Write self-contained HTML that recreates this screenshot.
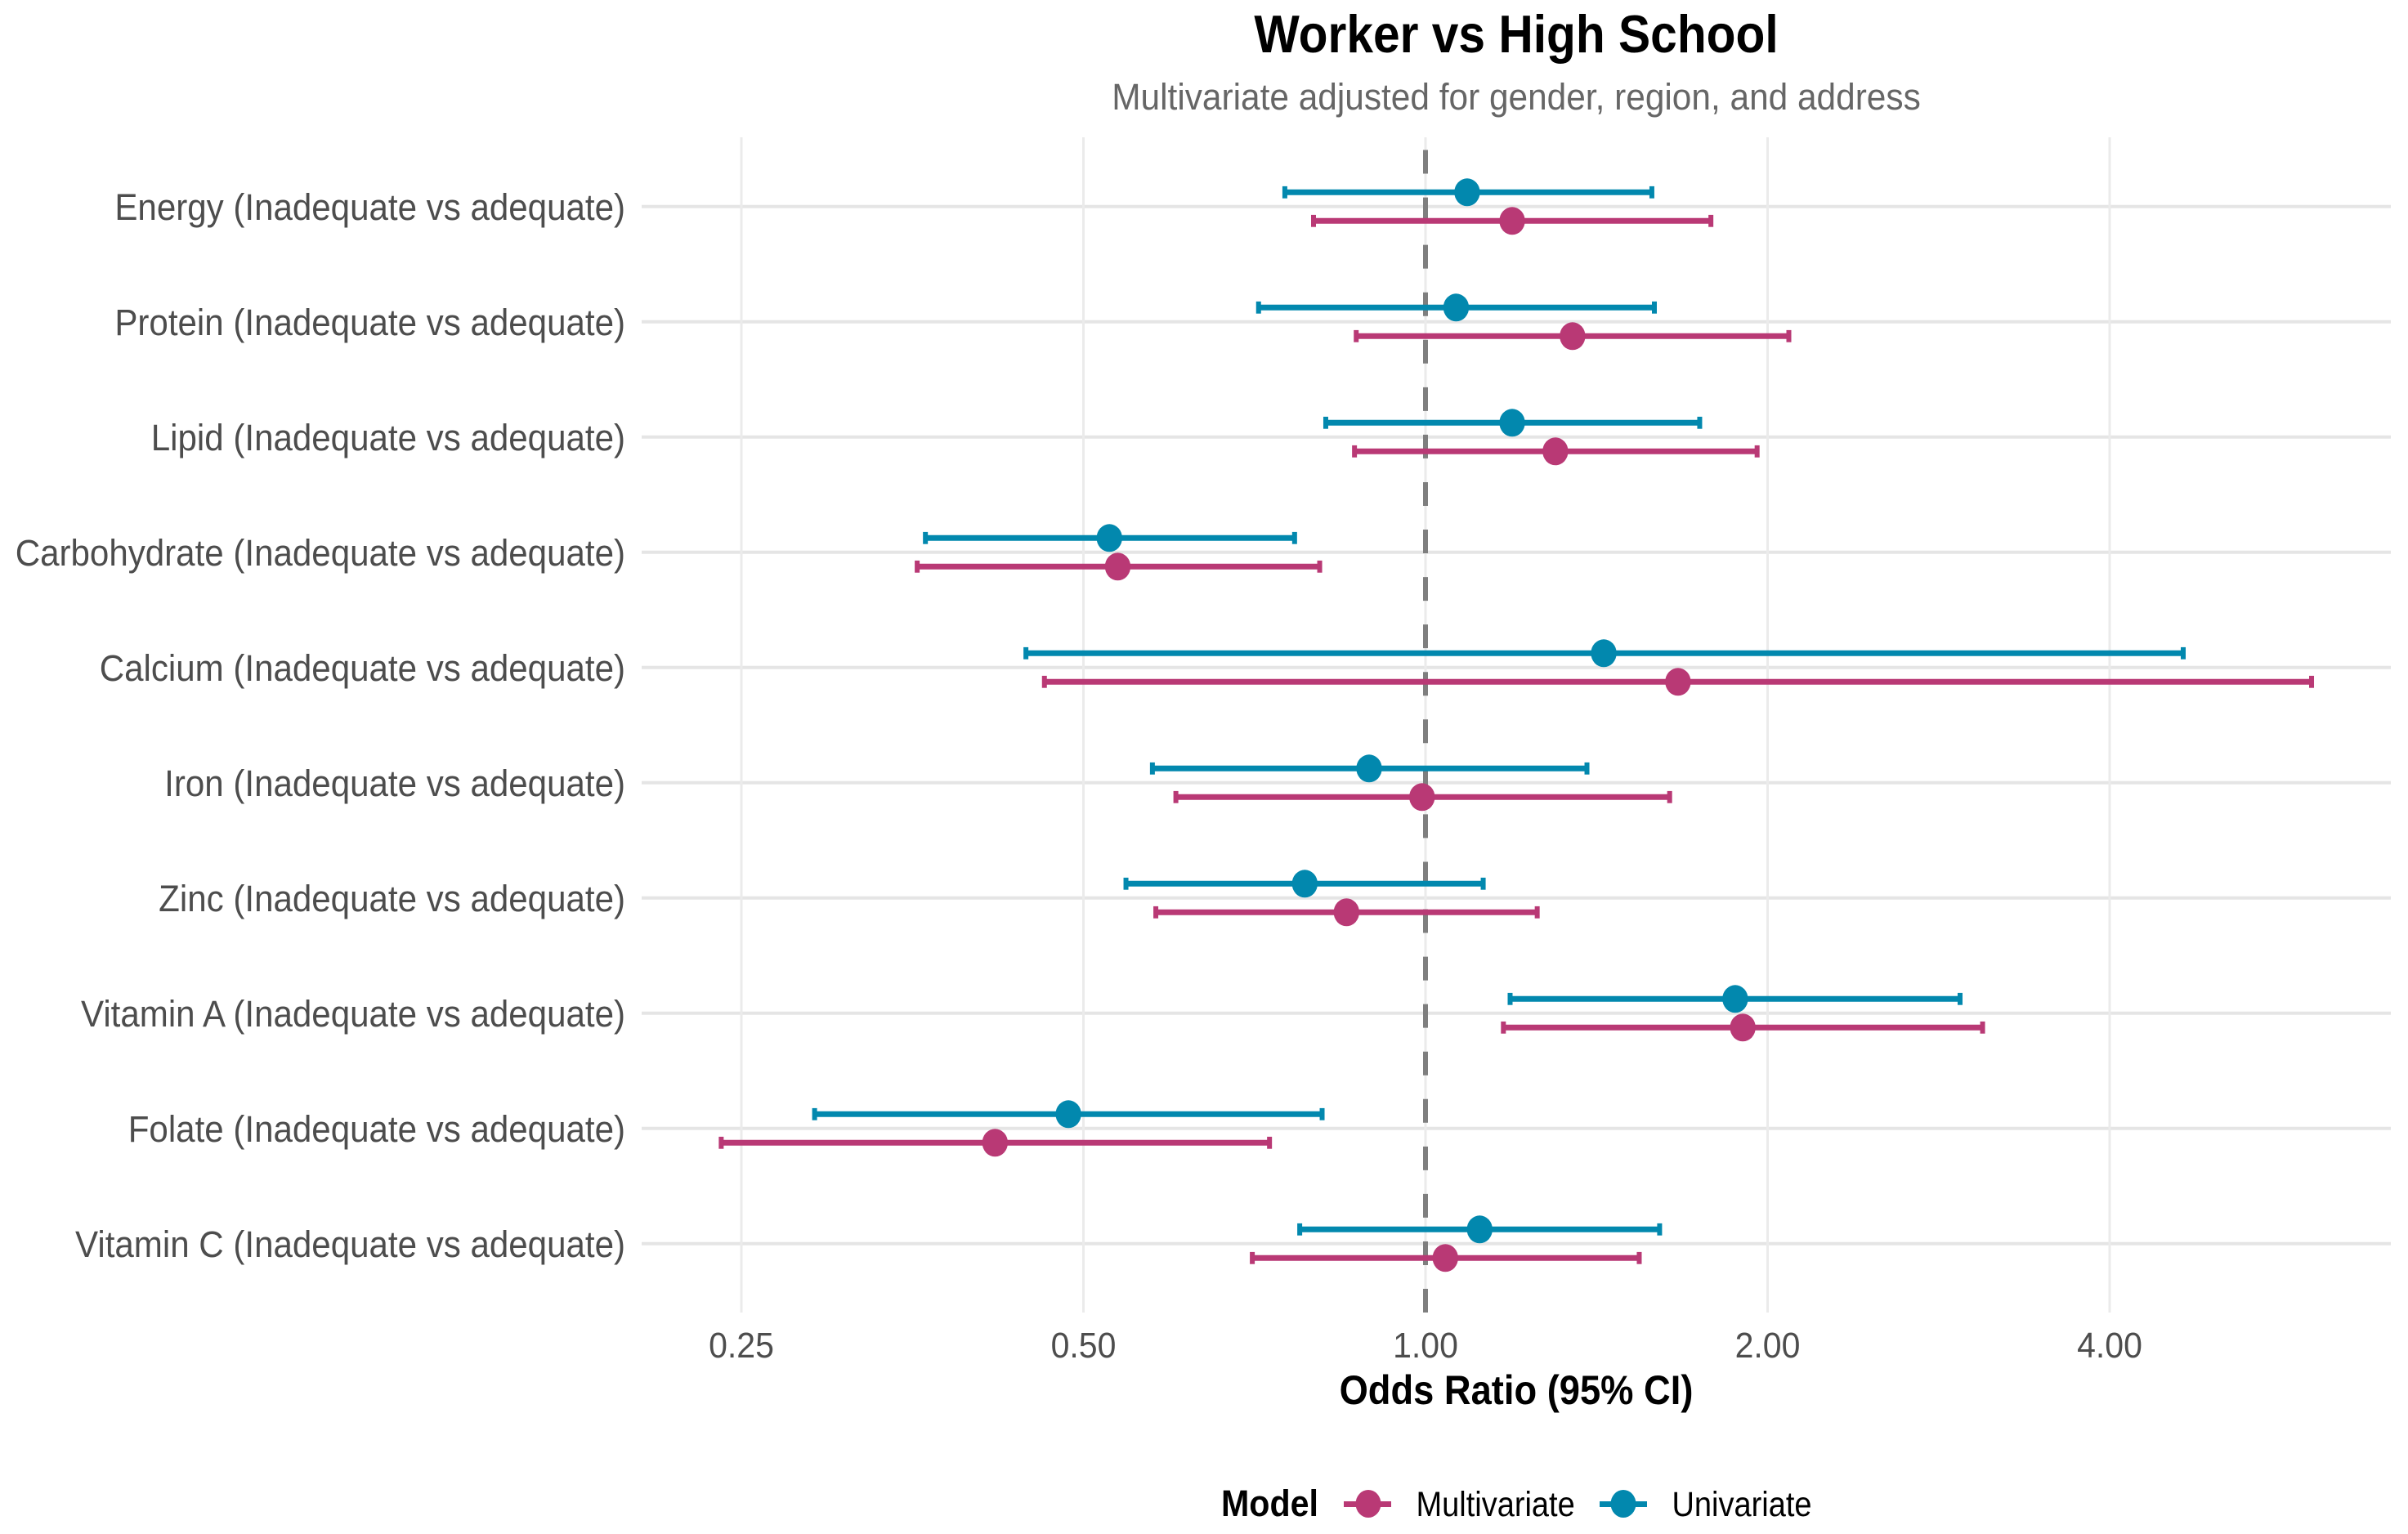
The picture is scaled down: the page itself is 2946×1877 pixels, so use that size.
<!DOCTYPE html>
<html lang="en">
<head>
<meta charset="utf-8">
<title>Worker vs High School</title>
<style>
  html, body { margin: 0; padding: 0; background: #ffffff; }
  body { width: 2946px; height: 1877px; overflow: hidden; }
  svg { display: block; font-family: "Liberation Sans", Arial, sans-serif; }
</style>
</head>
<body>
<svg id="chart" xmlns="http://www.w3.org/2000/svg" width="2946" height="1877" viewBox="0 0 2946 1877">
  <rect x="0" y="0" width="2946" height="1877" fill="#ffffff"/>
  <g id="grid"></g>
  <g id="refline"></g>
  <g id="marks"></g>
  <g id="axes"></g>

  <text transform="translate(1855,64) scale(1,1.1)" text-anchor="middle" font-size="58.7" font-weight="700" fill="#000000">Worker vs High School</text>
  <text transform="translate(1855,134) scale(1,1.08)" text-anchor="middle" font-size="42.4" fill="#666666">Multivariate adjusted for gender, region, and address</text>
  <text transform="translate(1855,1718) scale(1,1.1)" text-anchor="middle" font-size="45.3" font-weight="700" fill="#000000">Odds Ratio (95% CI)</text>

  <g>
    <text transform="translate(1494,1855) scale(1,1.1)" font-size="41.2" font-weight="700" fill="#000000">Model</text>
    <g>
      <line x1="1644" x2="1702" y1="1840.5" y2="1840.5" stroke="#b93975" stroke-width="7"/>
      <ellipse cx="1674" cy="1840" rx="15.5" ry="17" fill="#b93975"/>
      <text transform="translate(1732.5,1855) scale(1,1.12)" font-size="38" fill="#000000">Multivariate</text>
    </g>
    <g>
      <line x1="1957" x2="2015" y1="1840.5" y2="1840.5" stroke="#0288ae" stroke-width="7"/>
      <ellipse cx="1986" cy="1840" rx="15.5" ry="17" fill="#0288ae"/>
      <text transform="translate(2045.5,1855) scale(1,1.12)" font-size="38" fill="#000000">Univariate</text>
    </g>
  </g>
</svg>

<script>
// ---- chart data ----
const categories = ["Energy", "Protein", "Lipid", "Carbohydrate", "Calcium", "Iron", "Zinc", "Vitamin A", "Folate", "Vitamin C"];
const labelSuffix = " (Inadequate vs adequate)";
const xTickValues = [0.25, 0.5, 1, 2, 4];
const xTickLabels = ["0.25", "0.50", "1.00", "2.00", "4.00"];
const referenceValue = 1;

const univariateOR   = [1.088, 1.064, 1.192, 0.527, 1.435, 0.892, 0.783, 1.873, 0.485, 1.116];
const univariateLow  = [0.752, 0.713, 0.817, 0.363, 0.445, 0.575, 0.545, 1.187, 0.290, 0.775];
const univariateHigh = [1.582, 1.590, 1.743, 0.767, 4.643, 1.387, 1.124, 2.954, 0.811, 1.607];

const multivariateOR   = [1.192, 1.347, 1.301, 0.536, 1.668, 0.993, 0.852, 1.902, 0.418, 1.041];
const multivariateLow  = [0.797, 0.869, 0.866, 0.357, 0.462, 0.603, 0.579, 1.171, 0.240, 0.704];
const multivariateHigh = [1.783, 2.088, 1.958, 0.807, 6.022, 1.640, 1.254, 3.092, 0.729, 1.542];

// ---- geometry and scales ----
const NS = "http://www.w3.org/2000/svg";
const panelLeft = 785, panelRight = 2925, panelTop = 168, panelBottom = 1606;
const xOrigin = 1744, xPerDoubling = 418.5;
const yFirst = 252.8, yStep = 141, dodge = 17.5, capHalf = 7.4;
const magenta = "#b93975", blue = "#0288ae";

function xScale(v) { return xOrigin + xPerDoubling * Math.log2(v); }
function yScale(i) { return yFirst + yStep * i; }

function make(tag, parent, attrs) {
  const el = document.createElementNS(NS, tag);
  for (const k in attrs) el.setAttribute(k, attrs[k]);
  parent.appendChild(el);
  return el;
}

const gridG = document.getElementById("grid");
const refG = document.getElementById("refline");
const marksG = document.getElementById("marks");
const axesG = document.getElementById("axes");

// horizontal grid lines and y labels
categories.forEach(function (name, i) {
  const y = yScale(i);
  const line = make("line", gridG, { x1: panelLeft, x2: panelRight, y1: y, y2: y, stroke: "#e5e5e5", "stroke-width": 4 });
  
  

  const label = make("text", axesG, { transform: "translate(765," + (y + 16) + ") scale(1,1.08)", "text-anchor": "end", "font-size": 42.1, fill: "#4d4d4d" });
  label.textContent = name + labelSuffix;
  
  
});

// vertical grid lines and x labels
xTickValues.forEach(function (v, i) {
  const x = xScale(v);
  const line = make("line", gridG, { x1: x, x2: x, y1: panelTop, y2: panelBottom, stroke: "#ebebeb", "stroke-width": 3 });
  
  

  const label = make("text", axesG, { transform: "translate(" + x + ",1661) scale(1,1.06)", "text-anchor": "middle", "font-size": 41, fill: "#4d4d4d" });
  label.textContent = xTickLabels[i];
  
  
});

// reference line at OR = 1
const refLine = make("line", refG, { x1: xScale(referenceValue), x2: xScale(referenceValue), y1: panelBottom, y2: panelTop, stroke: "#7f7f7f", "stroke-width": 6, "stroke-dasharray": "29 29.06" });



// series: error bars with caps, then points
function drawSeries(seriesName, color, offset, or, low, high) {
  categories.forEach(function (name, i) {
    const y = yScale(i) + offset;
    const xl = xScale(low[i]), xh = xScale(high[i]);

    const bar = make("line", marksG, { x1: xl, x2: xh, y1: y, y2: y, stroke: color, "stroke-width": 7 });
    
    
    bar.setAttribute('data-series', seriesName);

    const capL = make("line", marksG, { x1: xl, x2: xl, y1: y - capHalf, y2: y + capHalf, stroke: color, "stroke-width": 6 });
    
    

    const capH = make("line", marksG, { x1: xh, x2: xh, y1: y - capHalf, y2: y + capHalf, stroke: color, "stroke-width": 6 });
    
    

    const pt = make("ellipse", marksG, { cx: xScale(or[i]), cy: y, rx: 15.7, ry: 17, fill: color });
    
    
    pt.setAttribute('data-series', seriesName);
  });
}

drawSeries("multivariate", magenta, dodge, multivariateOR, multivariateLow, multivariateHigh);
drawSeries("univariate", blue, -dodge, univariateOR, univariateLow, univariateHigh);
</script>
</body>
</html>
